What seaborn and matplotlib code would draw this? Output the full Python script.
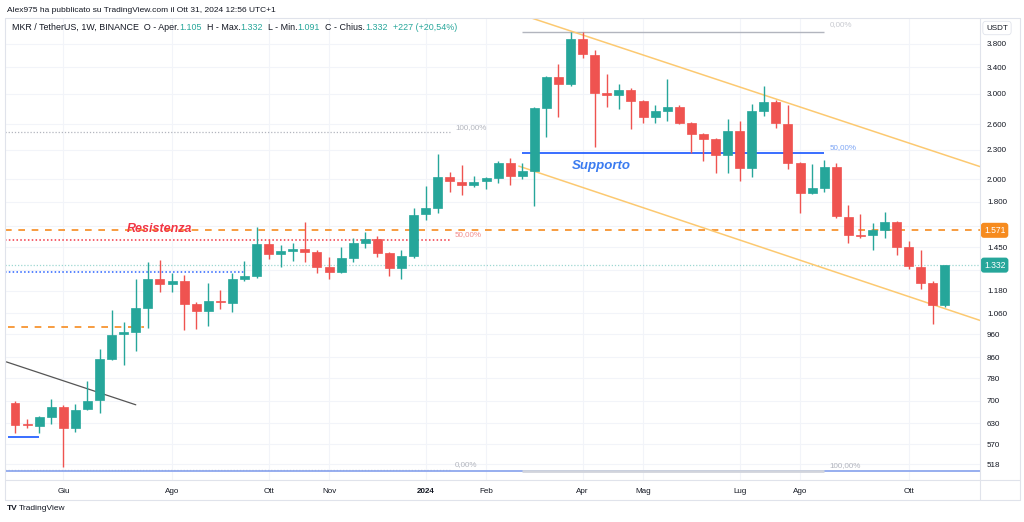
import numpy as np
import pandas as pd
import matplotlib
matplotlib.use("Agg")
import matplotlib.pyplot as plt
import matplotlib.dates as mdates
import matplotlib.transforms as mtransforms
from matplotlib.lines import Line2D
from matplotlib.ticker import FixedLocator, FuncFormatter, NullLocator
import seaborn as sns

# === Candele settimanali MKR / USDT ===
first_week = "2023-05-08"
opens = [693, 628, 622, 649, 680, 616, 674, 703, 854, 961, 970, 1087, 1247, 1218, 1235, 1108,
         1072, 1125, 1113, 1247, 1265, 1472, 1404, 1424, 1438, 1418, 1320, 1289, 1378, 1479,
         1508, 1411, 1314, 1391, 1697, 1747, 2022, 1975, 1947, 1984, 2012, 2161, 2032, 2080,
         2805, 3253, 3144, 3890, 3607, 3012, 2984, 3056, 2901, 2688, 2764, 2818, 2612, 2480,
         2422, 2245, 2515, 2111, 2766, 2887, 2600, 2161, 1875, 1920, 2121, 1674, 1537, 1537,
         1573, 1634, 1451, 1320, 1224, 1105]
highs = [698, 643, 652, 706, 687, 690, 770, 895, 1079, 1018, 1247, 1352, 1365, 1283, 1271, 1118,
         1224, 1184, 1283, 1358, 1596, 1508, 1465, 1479, 1634, 1430, 1384, 1451, 1515, 1558,
         1529, 1420, 1431, 1747, 1938, 2255, 2070, 2141, 2032, 2022, 2182, 2213, 2161, 2818,
         3260, 3456, 4020, 4020, 3693, 3302, 3144, 3085, 2914, 2846, 3219, 2846, 2620, 2491,
         2433, 2663, 2637, 2859, 3115, 2914, 2846, 2170, 2151, 2192, 2161, 1771, 1697, 1627,
         1714, 1640, 1494, 1431, 1235, 1332]
lows = [600, 616, 602, 628, 512, 605, 671, 661, 850, 830, 887, 989, 1173, 1173, 980, 984,
        998, 1082, 1067, 1235, 1253, 1371, 1320, 1358, 1352, 1283, 1247, 1283, 1352, 1444,
        1384, 1265, 1247, 1378, 1650, 1706, 1884, 1857, 1929, 1911, 1965, 1947, 2003, 1763,
        2445, 2688, 3115, 3550, 2331, 2818, 2792, 2539, 2612, 2612, 2637, 2600, 2266, 2182,
        2061, 2061, 1984, 2022, 2701, 2551, 2101, 1706, 1866, 1884, 1666, 1479, 1515, 1431,
        1515, 1398, 1308, 1190, 1008, 1091]
closes = [625, 625, 649, 680, 616, 671, 700, 854, 957, 970, 1087, 1247, 1218, 1235, 1108, 1072,
          1125, 1118, 1247, 1265, 1472, 1404, 1424, 1438, 1418, 1320, 1289, 1378, 1479, 1508,
          1411, 1314, 1391, 1690, 1747, 2022, 1984, 1947, 1975, 2012, 2161, 2032, 2080, 2805,
          3253, 3144, 3890, 3624, 3012, 2984, 3056, 2901, 2688, 2764, 2818, 2612, 2480, 2422,
          2245, 2515, 2111, 2766, 2887, 2612, 2161, 1875, 1920, 2121, 1681, 1537, 1530, 1573,
          1634, 1451, 1327, 1224, 1105, 1332]

# asse prezzi e asse tempo
price_ticks = [518, 570, 630, 700, 780, 860, 960, 1060, 1180, 1300, 1450, 1600, 1800,
               2000, 2300, 2600, 3000, 3400, 3800]
hidden_ticks = [1300, 1600]   # coperti dalle etichette di prezzo
month_ticks = ["2023-06-05", "2023-08-07", "2023-10-02", "2023-11-06", "2024-01-01",
               "2024-02-05", "2024-04-01", "2024-05-06", "2024-07-01", "2024-08-05", "2024-10-07"]
month_labels = ["Giu", "Ago", "Ott", "Nov", "2024", "Feb", "Apr", "Mag", "Lug", "Ago", "Ott"]

# disegni (livelli e linee di tendenza)
resistance = 1571
left_fib = [2500, 1502, 505]          # 100%, 50%, 0%
left_fib_end = "2024-01-15"
right_fib = [4022, 2262, 502]         # 0%, 50%, 100%
right_fib_span = ["2024-02-26", "2024-08-19"]
blue_dotted = 1290
blue_dotted_end = "2023-09-18"
blue_short = 590
blue_short_end = "2023-05-22"
orange_short = 993
orange_short_end = "2023-07-22"
bottom_line = 502
trend_dates = ["2023-05-03", "2023-07-17"]
trend_prices = [842, 687]
upper_dates = ["2024-03-03", "2024-11-18"]
upper_prices = [4290, 2121]
lower_dates = ["2024-02-24", "2024-11-18"]
lower_prices = [2130, 1023]

GREEN = "#26a69a"
RED = "#ef5350"
ORANGE = "#f68b1f"
BLUE = "#2962ff"
TEXT = "#131722"
GRID = "#f2f4f9"
BORDER = "#e0e3eb"

sns.set_theme(style="white")
plt.rcParams["font.family"] = ["Liberation Sans", "DejaVu Sans"]

W, H = 1024, 522
fig = plt.figure(figsize=(W / 100, H / 100), dpi=100)


def fx(px):
    return px / W


def fy(py):
    return 1 - py / H


ax = fig.add_axes([fx(5), fy(480), fx(980) - fx(5), fy(18) - fy(480)])
ax.set_yscale("log")

o = np.array(opens, float)
h = np.array(highs, float)
l = np.array(lows, float)
c = np.array(closes, float)
weeks = pd.date_range(first_week, periods=len(o), freq="W-MON")
x = mdates.date2num(weeks)
cols = np.where(c >= o, GREEN, RED)

ax.vlines(x, l, h, colors=cols, lw=1, zorder=4)
ax.bar(x, np.abs(c - o), bottom=np.minimum(o, c), width=5.2, color=cols,
       edgecolor=cols, lw=0.5, zorder=5)

x0 = mdates.date2num(pd.Timestamp(first_week))
ax.set_xlim(x0 - 5.8, x0 + 559.3)
ax.set_ylim(481, 4298)


def d(s):
    return mdates.date2num(pd.Timestamp(s))


xmin, xmax = ax.get_xlim()

# --- linee disegnate ---
ax.hlines(resistance, xmin, xmax, color=ORANGE, lw=1.2, linestyles=(0, (4, 4)), zorder=3)
ax.hlines(c[-1], xmin, xmax, color=GREEN, alpha=0.45, lw=0.9, linestyles=(0, (1, 1.5)), zorder=2)
ax.hlines(left_fib[0], xmin, d(left_fib_end), color="#b2b5be", lw=0.9, linestyles=(0, (1, 1.5)), zorder=2)
ax.hlines(left_fib[1], xmin, d(left_fib_end), color="#f23645", lw=1.1, linestyles=(0, (1, 1.5)), zorder=2)
ax.hlines(left_fib[2], xmin, d(left_fib_end), color="#b2b5be", lw=0.9, linestyles=(0, (1, 1.5)), zorder=2)
ax.hlines(bottom_line, xmin, xmax, color="#8fa8ee", lw=1.3, zorder=2)
ax.hlines(right_fib[0], d(right_fib_span[0]), d(right_fib_span[1]), color="#b2b5be", lw=1, zorder=2)
ax.hlines(right_fib[1], d(right_fib_span[0]), d(right_fib_span[1]), color=BLUE, lw=1.3, zorder=3)
ax.hlines(right_fib[2], d(right_fib_span[0]), d(right_fib_span[1]), color="#d1d4dc", lw=2, zorder=2)
ax.hlines(blue_dotted, xmin, d(blue_dotted_end), color=BLUE, lw=1.1, linestyles=(0, (1, 1.5)), zorder=2)
ax.hlines(blue_short, xmin + 1.5, d(blue_short_end), color=BLUE, lw=1.3, zorder=3)
ax.hlines(orange_short, xmin + 1.5, d(orange_short_end), color=ORANGE, lw=1.2,
          linestyles=(0, (4, 4)), zorder=3)
ax.plot([d(s) for s in trend_dates], trend_prices, color="#555555", lw=0.9, zorder=3)
ax.plot([d(s) for s in upper_dates], upper_prices, color="#fcc971", lw=1.1, zorder=3)
ax.plot([d(s) for s in lower_dates], lower_prices, color="#fcc971", lw=1.1, zorder=3)

# --- etichette dei disegni ---
lab = dict(fontsize=5.8, ha="left", va="bottom", zorder=6)
ax.text(d(left_fib_end) + 3, left_fib[0] * 1.008, "100,00%", color="#b2b5be", **lab)
ax.text(d(left_fib_end) + 3, left_fib[1] * 1.01, "50,00%", color="#f28b8b", **lab)
ax.text(d(left_fib_end) + 3, left_fib[2] * 1.01, "0,00%", color="#b2b5be", **lab)
ax.text(d(right_fib_span[1]) + 3, right_fib[0] * 1.02, "0,00%", color="#c8cad0", **lab)
ax.text(d(right_fib_span[1]) + 3, right_fib[1] * 1.01, "50,00%", color="#7ea6f5", **lab)
ax.text(d(right_fib_span[1]) + 3, right_fib[2] * 1.01, "100,00%", color="#b2b5be", **lab)
ax.text(d("2023-07-31"), resistance * 1.005, "Resistenza", color="#f23645", fontsize=9,
        fontweight="bold", fontstyle="italic", ha="center", va="center", zorder=6)
ax.text(d("2024-04-12"), 2131, "Supporto", color="#3a7bf0", fontsize=9.5,
        fontweight="bold", fontstyle="italic", ha="center", va="center", zorder=6)

# --- assi ---
ax.yaxis.tick_right()
ax.yaxis.set_major_locator(FixedLocator(price_ticks))
ax.yaxis.set_minor_locator(NullLocator())
ax.yaxis.set_major_formatter(FuncFormatter(
    lambda v, p: "" if round(v) in hidden_ticks else f"{v:,.0f}".replace(",", ".")))
ax.tick_params(axis="y", length=0, pad=5, labelsize=5.8, labelcolor=TEXT)
ax.set_xticks([d(s) for s in month_ticks])
ax.set_xticklabels(month_labels)
ax.tick_params(axis="x", length=0, pad=6, labelsize=5.8, labelcolor=TEXT)
for t in ax.get_xticklabels():
    if t.get_text() == "2024":
        t.set_fontweight("bold")
ax.grid(True, color=GRID, lw=0.8)
ax.set_axisbelow(True)
for s in ax.spines.values():
    s.set_visible(False)

# etichette prezzo sull'asse
tr = mtransforms.blended_transform_factory(ax.transAxes, ax.transData)
for val, col in [(resistance, ORANGE), (c[-1], GREEN)]:
    ax.text(1.004, val, f"{val:,.0f}".replace(",", "."), transform=tr, color="white",
            fontsize=6.2, ha="left", va="center", zorder=7,
            bbox=dict(boxstyle="round,pad=0.35", fc=col, ec="none"))

# --- cornice ---
for (xa, ya, xb, yb) in [(5, 18, 1020, 18), (5, 18, 5, 500), (1020, 18, 1020, 500),
                         (5, 500, 1020, 500), (980, 18, 980, 500), (5, 480, 1020, 480)]:
    fig.add_artist(Line2D([fx(xa), fx(xb)], [fy(ya), fy(yb)], color=BORDER, lw=0.8))

fig.text(fx(997), fy(28), "USDT", fontsize=5.8, color=TEXT, ha="center", va="center",
         bbox=dict(boxstyle="round,pad=0.4", fc="white", ec=BORDER, lw=0.6))

fig.text(fx(7), fy(10), "Alex975 ha pubblicato su TradingView.com il Ott 31, 2024 12:56 UTC+1",
         fontsize=6.0, color=TEXT, ha="left", va="center")
fig.text(fx(7), fy(509), "TV", fontsize=6, fontweight="bold", color=TEXT, ha="left", va="center")
fig.text(fx(19), fy(509), "TradingView", fontsize=6, color=TEXT, ha="left", va="center")

# riga legenda OHLC
fmt = lambda v: f"{v:,.0f}".replace(",", ".")
chg = c[-1] - c[-2]
pct = f"{chg / c[-2] * 100:+.2f}".replace(".", ",")
pieces = [("MKR / TetherUS, 1W, BINANCE  O - Aper.", TEXT), (fmt(o[-1]), GREEN),
          ("  H - Max.", TEXT), (fmt(h[-1]), GREEN), ("  L - Min.", TEXT), (fmt(l[-1]), GREEN),
          ("  C - Chius.", TEXT), (fmt(c[-1]), GREEN), (f"  {chg:+.0f} ({pct}%)", GREEN)]
renderer = fig.canvas.get_renderer()
px = 12
for txt, col in pieces:
    t = fig.text(fx(px), fy(27), txt, fontsize=6.4, color=col, ha="left", va="center")
    px += t.get_window_extent(renderer).width

fig.savefig("out.png", dpi=100, facecolor="white")
